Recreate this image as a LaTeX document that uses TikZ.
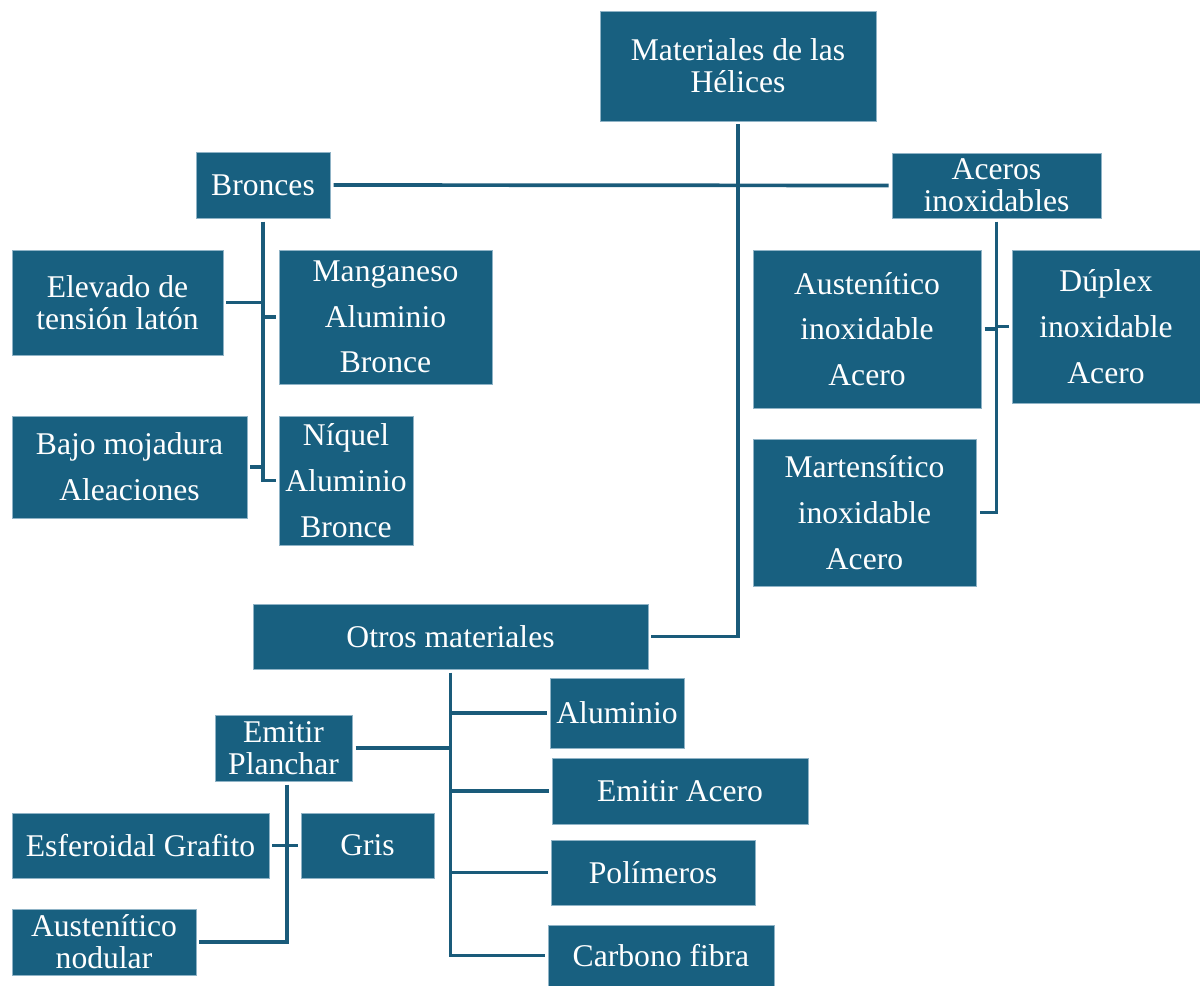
\documentclass[tikz,border=0pt]{standalone}
\usepackage{fontspec}
\setmainfont{Liberation Serif}
\usepackage{xcolor}
\usepackage{tikz}
\definecolor{hbblue}{HTML}{186080}
\definecolor{hbedge}{HTML}{8FB3C6}
\definecolor{hbline}{HTML}{1A5B7A}
\tikzset{
  matbox/.style={rectangle,fill=hbblue,draw=hbedge,line width=0.5pt,text=white,align=center,inner sep=0pt,outer sep=2pt,font=\fontsize{18}{18.3}\selectfont},
  loosebox/.style={matbox,font=\fontsize{18}{26}\selectfont},
  link/.style={draw=hbline,line width=2.1pt},
}
\begin{document}
\begin{tikzpicture}[x=0.02cm,y=-0.02cm]
  \useasboundingbox (0,0) rectangle (1200,986);
  \node[matbox,minimum width=5.52cm,minimum height=2.2cm] (nTop) at (738,66) {Materiales de las\\Hélices};
  \node[matbox,minimum width=2.68cm,minimum height=1.32cm] (nBron) at (263,185) {Bronces};
  \node[matbox,minimum width=4.18cm,minimum height=1.3cm] (nAcer) at (996.5,185.5) {Aceros\\inoxidables};
  \node[matbox,minimum width=4.22cm,minimum height=2.1cm] (nElev) at (117.5,302.5) {Elevado de\\tensión latón};
  \node[loosebox,minimum width=4.26cm,minimum height=2.68cm] (nMang) at (385.5,317) {Manganeso\\Aluminio\\Bronce};
  \node[loosebox,minimum width=4.7cm,minimum height=2.04cm] (nBajo) at (129.5,467) {Bajo mojadura\\Aleaciones};
  \node[loosebox,minimum width=2.68cm,minimum height=2.58cm] (nNiq) at (346,480.5) {Níquel\\Aluminio\\Bronce};
  \node[loosebox,minimum width=4.56cm,minimum height=3.16cm] (nAust) at (867,329) {Austenítico\\inoxidable\\Acero};
  \node[loosebox,minimum width=3.76cm,minimum height=3.06cm] (nDupl) at (1106,326.5) {Dúplex\\inoxidable\\Acero};
  \node[loosebox,minimum width=4.46cm,minimum height=2.94cm] (nMart) at (864.5,512.5) {Martensítico\\inoxidable\\Acero};
  \node[matbox,minimum width=7.9cm,minimum height=1.3cm] (nOtros) at (450.5,636.5) {Otros materiales};
  \node[matbox,minimum width=2.68cm,minimum height=1.4cm] (nAlum) at (617,713) {Aluminio};
  \node[matbox,minimum width=2.74cm,minimum height=1.32cm] (nEmPl) at (283.5,748) {Emitir\\Planchar};
  \node[matbox,minimum width=5.12cm,minimum height=1.32cm] (nEmAc) at (680,791) {Emitir Acero};
  \node[matbox,minimum width=5.14cm,minimum height=1.3cm] (nEsfe) at (140.5,845.5) {Esferoidal Grafito};
  \node[matbox,minimum width=2.66cm,minimum height=1.3cm] (nGris) at (367.5,845.5) {Gris};
  \node[matbox,minimum width=4.08cm,minimum height=1.3cm] (nPoli) at (653,872.5) {Polímeros};
  \node[matbox,minimum width=3.68cm,minimum height=1.32cm] (nAuNo) at (104,942) {Austenítico\\nodular};
  \node[matbox,minimum width=4.52cm,minimum height=1.22cm] (nCarb) at (661,955.5) {Carbono fibra};
  \coordinate (jEmPl) at ([xshift=0.07cm]nEmPl.south);
  \draw[link] (nTop.south) |- (nOtros.east);
  \draw[link] (nBron.east) -- (nAcer.west);
  \draw[link] (nBron.south) |- (nNiq.west);
  \draw[link] (nElev.east) -- (nElev.east -| nBron.south);
  \draw[link] (nMang.west) -- (nMang.west -| nBron.south);
  \draw[link] (nBajo.east) -- (nBajo.east -| nBron.south);
  \draw[link] (nAcer.south) |- (nMart.east);
  \draw[link] (nAust.east) -- (nAust.east -| nAcer.south);
  \draw[link] (nDupl.west) -- (nDupl.west -| nAcer.south);
  \draw[link] (nOtros.south) |- (nCarb.west);
  \draw[link] (nAlum.west) -- (nAlum.west -| nOtros.south);
  \draw[link] (nEmPl.east) -- (nEmPl.east -| nOtros.south);
  \draw[link] (nEmAc.west) -- (nEmAc.west -| nOtros.south);
  \draw[link] (nPoli.west) -- (nPoli.west -| nOtros.south);
  \draw[link] (jEmPl) |- (nAuNo.east);
  \draw[link] (nEsfe.east) -- (nEsfe.east -| jEmPl);
  \draw[link] (nGris.west) -- (nGris.west -| jEmPl);
\end{tikzpicture}
\end{document}
